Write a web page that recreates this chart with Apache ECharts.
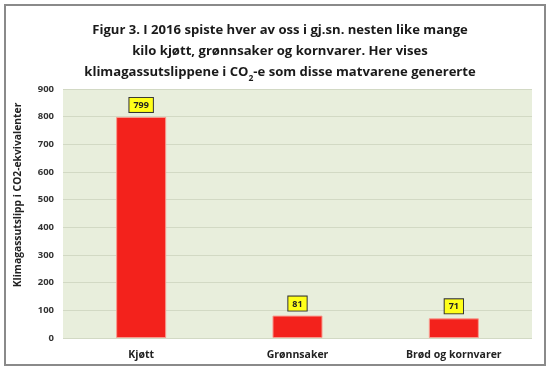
<!DOCTYPE html>
<html><head><meta charset="utf-8">
<script src="https://cdn.jsdelivr.net/npm/echarts@6/dist/echarts.min.js"></script>
<style>html,body{margin:0;padding:0;background:#fff}#c{width:550px;height:371px}</style>
</head><body><div id="c"></div>
<script>
const categories = ["Kjøtt", "Grønnsaker", "Brød og kornvarer"];
const values = [799, 81, 71];
const yTicks = [0, 100, 200, 300, 400, 500, 600, 700, 800, 900];
const yName = 'Klimagassutslipp i CO2-ekvivalenter';

const chart = echarts.init(document.getElementById('c'), null, {renderer: 'canvas'});
const F = '"Open Sans", "DejaVu Sans", sans-serif';
chart.setOption({
  animation: false,
  backgroundColor: '#ffffff',
  graphic: [
    {type: 'rect', shape: {x: 5, y: 5, width: 540, height: 360}, style: {fill: 'none', stroke: '#8a8a8a', lineWidth: 2}, z: 0},
    {type: 'text', x: 18, y: 195, rotation: Math.PI / 2, z: 5,
      style: {text: yName, fontFamily: F, fontWeight: 'bold', fontSize: 10.3, fill: '#222', align: 'center', verticalAlign: 'middle'}}
  ],
  title: {
    text: 'Figur 3. I 2016 spiste hver av oss i gj.sn. nesten like mange\nkilo kjøtt, grønnsaker og kornvarer. Her vises\nklimagassutslippene i CO{sub|2}-e som disse matvarene genererte',
    left: 275, top: 15, textAlign: 'center',
    textStyle: {
      fontFamily: F, fontWeight: 'bold', fontSize: 13.1, color: '#1a1a1a', lineHeight: 21,
      rich: {sub: {fontFamily: F, fontWeight: 'bold', fontSize: 8.5, color: '#1a1a1a', verticalAlign: 'bottom', padding: [6, 0, 0, 0], lineHeight: 21}}
    }
  },
  grid: {left: 63, right: 18, top: 89, bottom: 33, containLabel: false, show: true, backgroundColor: '#e8eedc', borderWidth: 0},
  xAxis: {
    type: 'category', data: categories,
    axisLine: {show: false}, axisTick: {show: false},
    axisLabel: {fontFamily: F, fontWeight: 'bold', fontSize: 10.5, color: '#222', margin: 12}
  },
  yAxis: {
    type: 'value', min: 0, max: 900, interval: 100,
    axisLine: {show: false}, axisTick: {show: false},
    axisLabel: {fontFamily: F, fontWeight: 'bold', fontSize: 9.5, color: '#333', margin: 9,
      formatter: v => yTicks.includes(v) ? String(v) : ''},
    splitLine: {lineStyle: {color: '#d2d9c4', width: 1}}
  },
  series: [{
    type: 'bar', data: values, barWidth: '32%',
    itemStyle: {color: '#f3221c', borderColor: '#f79b8f', borderWidth: 1},
    label: {
      show: true, position: 'top', distance: 5,
      fontFamily: F, fontWeight: 'bold', fontSize: 9, color: '#222',
      backgroundColor: '#ffff1a', borderColor: '#333', borderWidth: 1, padding: [3, 4, 2, 4]
    }
  }]
});
</script></body></html>
